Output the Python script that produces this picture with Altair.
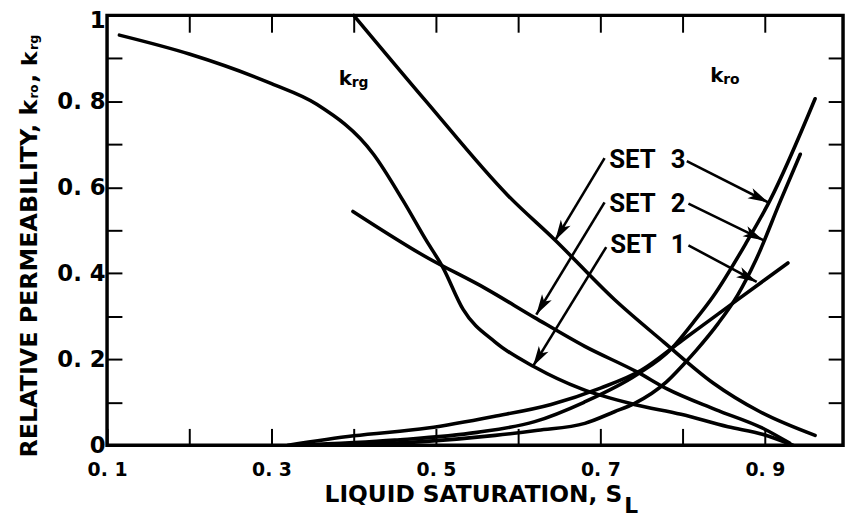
import math
import altair as alt
import pandas as pd

# ---------------- data ----------------
# gas relative permeability k_rg (sets 1-3)
krg1_s = [0.115, 0.200, 0.300, 0.355, 0.424, 0.460, 0.488, 0.508, 0.533, 0.572, 0.620, 0.677, 0.741, 0.798, 0.855, 0.898, 0.934]
krg1_k = [0.954, 0.910, 0.841, 0.793, 0.677, 0.569, 0.477, 0.415, 0.316, 0.240, 0.182, 0.131, 0.095, 0.072, 0.043, 0.025, 0.000]
krg2_s = [0.399, 0.488, 0.560, 0.620, 0.681, 0.745, 0.781, 0.840, 0.898, 0.930]
krg2_k = [0.544, 0.438, 0.365, 0.297, 0.230, 0.170, 0.131, 0.083, 0.039, 0.005]
krg3_s = [0.400, 0.488, 0.588, 0.645, 0.717, 0.777, 0.837, 0.894, 0.961]
krg3_k = [1.000, 0.800, 0.580, 0.477, 0.339, 0.240, 0.145, 0.078, 0.023]
# oil relative permeability k_ro (sets 1-3)
kro1_s = [0.320, 0.400, 0.490, 0.570, 0.640, 0.700, 0.750, 0.800, 0.850, 0.900, 0.928]
kro1_k = [0.000, 0.022, 0.040, 0.067, 0.095, 0.133, 0.175, 0.245, 0.315, 0.385, 0.424]
kro2_s = [0.380, 0.488, 0.572, 0.624, 0.681, 0.717, 0.741, 0.780, 0.801, 0.817, 0.843, 0.867, 0.889, 0.919, 0.943]
kro2_k = [0.000, 0.009, 0.023, 0.035, 0.051, 0.078, 0.097, 0.147, 0.188, 0.222, 0.283, 0.350, 0.431, 0.569, 0.677]
kro3_s = [0.330, 0.450, 0.550, 0.620, 0.680, 0.745, 0.786, 0.813, 0.837, 0.877, 0.906, 0.961]
kro3_k = [0.000, 0.012, 0.030, 0.055, 0.100, 0.165, 0.224, 0.286, 0.346, 0.470, 0.569, 0.806]

# annotation arrows (tail -> tip)
arrow_tail_s = [0.705, 0.805, 0.705, 0.807, 0.707, 0.807]
arrow_tail_k = [0.668, 0.661, 0.565, 0.562, 0.461, 0.465]
arrow_tip_s = [0.645, 0.904, 0.622, 0.898, 0.618, 0.890]
arrow_tip_k = [0.477, 0.565, 0.304, 0.477, 0.184, 0.380]

x_tick_values = [0.1, 0.2, 0.3, 0.4, 0.5, 0.6, 0.7, 0.8, 0.9]
x_top_ticks = [0.2, 0.3, 0.4, 0.5, 0.6, 0.7, 0.8, 0.9]
y_tick_values = [0.0, 0.1, 0.2, 0.3, 0.4, 0.5, 0.6, 0.7, 0.8, 0.9, 1.0]
y_right_ticks = [0.1, 0.2, 0.3, 0.4, 0.5, 0.6, 0.7, 0.8, 0.9]

x_title = "LIQUID  SATURATION,  S"
x_title_sub = "L"
y_title = "RELATIVE  PERMEABILITY,  k"
set_labels = ["SET", "SET", "SET"]
set_numbers = ["3", "2", "1"]

# ---------------- layout ----------------
X_MIN, X_MAX = 0.1, 0.995
W, H = 743, 434
FONT = "DejaVu Sans"
TITLE_FONT = "DejaVu Sans"
SET_FONT = "Roboto"

curves = pd.concat(
    [
        pd.DataFrame({"curve": name, "S": s, "k": k})
        for name, s, k in [
            ("krg1", krg1_s, krg1_k), ("krg2", krg2_s, krg2_k), ("krg3", krg3_s, krg3_k),
            ("kro1", kro1_s, kro1_k), ("kro2", kro2_s, kro2_k), ("kro3", kro3_s, kro3_k),
        ]
    ],
    ignore_index=True,
)

px_per_s = W / (X_MAX - X_MIN)
angles = []
for s0, k0, s1, k1 in zip(arrow_tail_s, arrow_tail_k, arrow_tip_s, arrow_tip_k):
    dx = (s1 - s0) * px_per_s
    dy = -(k1 - k0) * H
    angles.append(math.degrees(math.atan2(dx, -dy)) % 360)
arrows = pd.DataFrame({"s0": arrow_tail_s, "k0": arrow_tail_k,
                       "s1": arrow_tip_s, "k1": arrow_tip_k, "ang": angles})

x_scale = alt.Scale(domain=[X_MIN, X_MAX], nice=False, zero=False)
y_scale = alt.Scale(domain=[0, 1], nice=False, zero=False)

bottom_axis = alt.Axis(
    orient="bottom", values=x_tick_values, offset=-17, tickSize=17, tickWidth=2,
    tickColor="black", domain=False, grid=False,
    labelExpr="round(datum.value*10) % 2 == 1 ? replace(format(datum.value, '.1f'), '.', '. ') : ''",
    labelFont=FONT, labelFontSize=19, labelFontWeight="bold", labelColor="black",
    labelPadding=16, labelFlush=False, labelOverlap=False, labelBound=False, title=None,
)
left_axis = alt.Axis(
    orient="left", values=y_tick_values, offset=-15, tickSize=15, tickWidth=2,
    tickColor="black", domain=False, grid=False,
    labelExpr="datum.value == 0 ? '0\u00a0' : datum.value == 1 ? '1\u00a0' : "
              "(round(datum.value*10) % 2 == 0 ? replace(format(datum.value, '.1f'), '.', '. ') : '')",
    labelFont=FONT, labelFontSize=23, labelFontWeight="bold", labelColor="black",
    labelPadding=2, labelFlush=False, labelOverlap=False, labelBound=False,
    labelBaseline="middle",
    labelOffset=alt.condition("datum.value == 1", alt.value(5), alt.value(0)),
    title=None,
)
top_axis = alt.Axis(
    orient="top", values=x_top_ticks, offset=-17, tickSize=17, tickWidth=2,
    tickColor="black", domain=False, grid=False, labels=False, title=None,
)
right_axis = alt.Axis(
    orient="right", values=y_right_ticks, offset=-15, tickSize=15, tickWidth=2,
    tickColor="black", domain=False, grid=False, labels=False, title=None,
)

curve_layer = alt.Chart(curves).mark_line(
    color="black", strokeWidth=3.6, interpolate="monotone", strokeCap="round"
).encode(
    x=alt.X("S:Q", scale=x_scale, axis=bottom_axis),
    y=alt.Y("k:Q", scale=y_scale, axis=left_axis),
    detail="curve:N",
)

shaft_layer = alt.Chart(arrows).mark_rule(color="black", strokeWidth=2.6).encode(
    x=alt.X("s0:Q", scale=x_scale, axis=top_axis),
    y=alt.Y("k0:Q", scale=y_scale, axis=right_axis),
    x2="s1:Q",
    y2="k1:Q",
)

HEAD = "M0,0 L1,3.6 L0,2.7 L-1,3.6 Z"
head_layer = alt.Chart(arrows).mark_point(
    shape=HEAD, filled=True, color="black", size=130, opacity=1, strokeWidth=0
).encode(
    x=alt.X("s1:Q", scale=x_scale, axis=None),
    y=alt.Y("k1:Q", scale=y_scale, axis=None),
    angle=alt.Angle("ang:Q", scale=None),
)


def txt(s, x, y, size, font=FONT, angle=0, align="left"):
    props = dict(fontSize=size, font=font, fontWeight="bold", align=align,
                 baseline="alphabetic", color="black")
    if angle:
        props["angle"] = angle
    return alt.Chart(pd.DataFrame({"t": [s]})).mark_text(**props).encode(
        text="t:N", x=alt.value(x), y=alt.value(y)
    )


texts = [
    # in-plot curve family labels
    txt("k", 234, 70, 20), txt("rg", 247, 72, 14),
    txt("k", 609, 67, 20), txt("ro", 622, 69, 14),
    # SET labels
    txt(set_labels[0], 507, 154, 26, SET_FONT), txt(set_numbers[0], 569, 154, 26, SET_FONT),
    txt(set_labels[1], 507, 199, 26, SET_FONT), txt(set_numbers[1], 569, 199, 26, SET_FONT),
    txt(set_labels[2], 508, 240, 26, SET_FONT), txt(set_numbers[2], 569, 240, 26, SET_FONT),
    # x axis title
    txt(x_title, 520, 491, 23.5, TITLE_FONT, align="right"),
    txt(x_title_sub, 522, 502, 22, TITLE_FONT),
    # y axis title (rotated)
    txt(y_title, -71, 85, 24, TITLE_FONT, angle=270, align="right"),
    txt("ro", -70, 84, 12, TITLE_FONT, angle=270),
    txt(",", -71, 68, 24, TITLE_FONT, angle=270),
    txt("k", -71, 51, 22, TITLE_FONT, angle=270),
    txt("rg", -70, 35, 13, TITLE_FONT, angle=270),
]

chart = (
    alt.layer(curve_layer, shaft_layer, head_layer, *texts)
    .resolve_axis(x="independent", y="independent")
    .properties(
        width=W,
        height=H,
        autosize=alt.AutoSizeParams(type="none"),
        padding={"left": 100, "top": 5, "right": 4, "bottom": 72},
        background="white",
    )
    .configure_view(stroke="black", strokeWidth=3.5)
)

chart.save("out.html", embed_options={"renderer": "svg", "actions": False})
